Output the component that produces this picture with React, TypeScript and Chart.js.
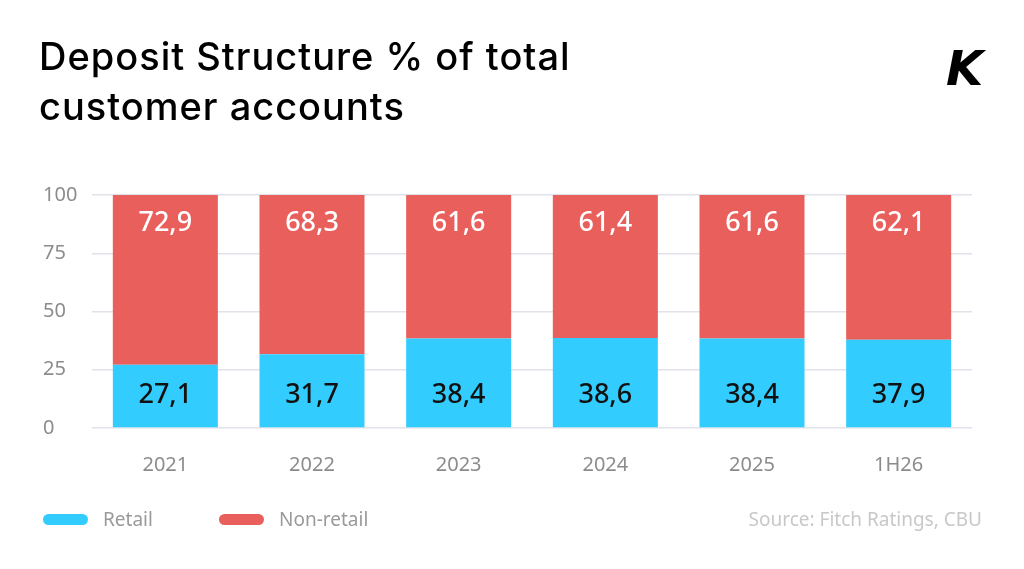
import React, { useEffect, useRef } from "react";
import { Chart, registerables, Plugin } from "chart.js";

Chart.register(...registerables);

const categories = ["2021", "2022", "2023", "2024", "2025", "1H26"];
const retailValues = [27.1, 31.7, 38.4, 38.6, 38.4, 37.9];
const nonRetailValues = [72.9, 68.3, 61.6, 61.4, 61.6, 62.1];
const yTicks = [0, 25, 50, 75, 100];
const seriesNames = ["Retail", "Non-retail"];

const BLUE = "#33ccff";
const RED = "#e85f5c";
const FONT = "'Noto Sans', sans-serif";

// comma as decimal separator, like the source
const fmt = (v: number) => v.toFixed(1).replace(".", ",");

// writes the value inside each bar segment
const valueLabels: Plugin = {
  id: "valueLabels",
  afterDatasetsDraw(chart) {
    const ctx = chart.ctx;
    ctx.save();
    ctx.font = `500 27px ${FONT}`;
    ctx.textAlign = "center";
    ctx.textBaseline = "middle";
    chart.data.datasets.forEach((ds, di) => {
      const meta = chart.getDatasetMeta(di);
      meta.data.forEach((bar: any, i) => {
        const v = ds.data[i] as number;
        if (di === 0) {
          ctx.fillStyle = "#111111";
          ctx.fillText(fmt(v), bar.x, bar.base - 32);
        } else {
          ctx.fillStyle = "#ffffff";
          ctx.fillText(fmt(v), bar.x, bar.y + 28);
        }
      });
    });
    ctx.restore();
  },
};

const StackedChart = () => {
  const canvasRef = useRef<HTMLCanvasElement | null>(null);

  useEffect(() => {
    if (!canvasRef.current) return;
    const chart = new Chart(canvasRef.current, {
      type: "bar",
      data: {
        labels: categories,
        datasets: [
          { label: seriesNames[0], data: retailValues, backgroundColor: BLUE },
          { label: seriesNames[1], data: nonRetailValues, backgroundColor: RED },
        ],
      },
      options: {
        animation: false,
        responsive: true,
        maintainAspectRatio: false,
        datasets: { bar: { categoryPercentage: 1, barPercentage: 0.716 } },
        layout: { padding: { top: 195, left: 43, right: 52, bottom: 75 } },
        plugins: { legend: { display: false }, tooltip: { enabled: false } },
        scales: {
          x: {
            stacked: true,
            grid: { display: false },
            border: { display: false },
            ticks: { color: "#8c8c8c", font: { family: FONT, size: 20 }, padding: 17 },
          },
          y: {
            stacked: true,
            min: 0,
            max: 100,
            afterBuildTicks: (s) => {
              s.ticks = yTicks.map((v) => ({ value: v }));
            },
            afterFit: (s) => {
              s.width = 49;
            },
            grid: { color: "#e2e2ea", lineWidth: 1.5, drawTicks: false },
            border: { display: false },
            ticks: {
              color: "#8c8c8c",
              font: { family: FONT, size: 20 },
              crossAlign: "far",
              padding: 0,
            },
          },
        },
      },
      plugins: [valueLabels],
    });
    return () => chart.destroy();
  }, []);

  return <canvas ref={canvasRef}></canvas>;
};

const App = () => {
  const legendColors = [BLUE, RED];
  return (
    <div
      style={{
        position: "absolute",
        left: 0,
        top: 0,
        width: 1024,
        height: 569,
        background: "#ffffff",
        fontFamily: FONT,
        overflow: "hidden",
      }}
    >
      <div style={{ position: "absolute", inset: 0 }}>
        <StackedChart />
      </div>
      <div
        style={{
          position: "absolute",
          left: 39,
          top: 31,
          fontFamily: "Inter, sans-serif",
          fontSize: 38,
          fontWeight: 500,
          lineHeight: "50px",
          color: "#000",
          letterSpacing: "1px",
        }}
      >
        Deposit Structure % of total
        <br />
        customer accounts
      </div>
      <div
        style={{
          position: "absolute",
          left: 946,
          top: 40,
          fontFamily: "'DejaVu Sans', sans-serif",
          fontSize: 48,
          fontWeight: 900,
          fontStyle: "italic",
          color: "#000",
        }}
      >
        K
      </div>
      {seriesNames.map((name, i) => (
        <div
          key={name}
          style={{
            position: "absolute",
            left: i === 0 ? 43 : 219,
            top: 507,
            display: "flex",
            alignItems: "center",
            height: 24,
          }}
        >
          <span
            style={{
              display: "inline-block",
              width: 45,
              height: 11,
              borderRadius: 6,
              background: legendColors[i],
              marginRight: 15,
            }}
          />
          <span style={{ fontSize: 19, color: "#9a9a9a" }}>{name}</span>
        </div>
      ))}
      <div
        style={{
          position: "absolute",
          right: 42,
          top: 507,
          height: 24,
          lineHeight: "24px",
          fontSize: 19,
          color: "#c8c8c8",
        }}
      >
        Source: Fitch Ratings, CBU
      </div>
    </div>
  );
};

export default App;
